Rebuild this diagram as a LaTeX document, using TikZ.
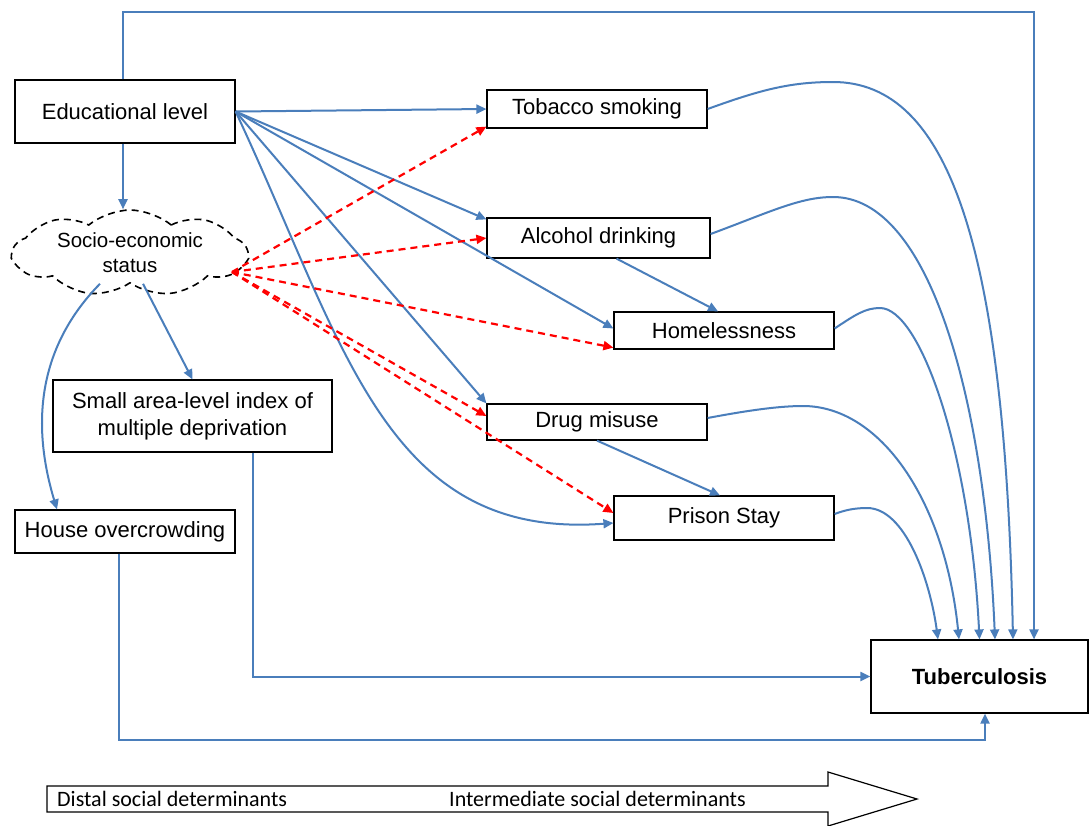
\documentclass[tikz,border=0pt]{standalone}
\usepackage{fontspec}
\setmainfont{Liberation Sans}
\newfontfamily\calibrifont{Carlito}
\usetikzlibrary{arrows.meta,shapes.symbols,calc}
\definecolor{lblue}{HTML}{4A7EBB}
\begin{document}
\begin{tikzpicture}[x=1pt,y=-1pt,
  box/.style={draw=black,line width=1.2pt,inner sep=0pt,minimum width=220pt,
    font=\fontsize{22}{27}\selectfont,align=center},
  arr/.style={draw=lblue,line width=2pt,-{Triangle[length=10pt,width=9pt]}},
  rarr/.style={draw=red,line width=2.2pt,dash pattern=on 7pt off 5pt,
    -{Triangle[length=10pt,width=9pt]}},
  lbl/.style={font=\calibrifont\fontsize{22}{24}\selectfont,anchor=west,inner sep=0pt}]
\fill[white] (0,0) rectangle (1091,825);
\useasboundingbox (0,0) rectangle (1091,825);

% nodes
\node[box,minimum height=63pt] (edu) at (125,111.5) {Educational level};
\node[cloud,draw=black,line width=1.6pt,dash pattern=on 7pt off 5pt,cloud puffs=9,
  cloud puff arc=80,cloud ignores aspect,minimum width=234pt,minimum height=86pt,
  inner sep=0pt,align=center,font=\fontsize{20.5}{25}\selectfont] (soc) at (130,253)
  {Socio-economic\\status};
\node[box,minimum height=38pt] (tob) at (597,109) {Tobacco smoking};
\node[box,minimum width=223pt,minimum height=40pt] (alc) at (598.5,238) {Alcohol drinking};
\node[box,minimum height=37pt] (hom) at (724,330.5) {Homelessness};
\node[box,minimum height=36pt] (drug) at (597,422) {Drug misuse};
\node[box,minimum height=44pt] (pri) at (724,518) {Prison Stay};
\node[box,minimum width=279pt,minimum height=72pt] (sma) at (192.5,416)
  {Small area-level index of\\multiple deprivation};
\node[box,minimum height=43pt] (hou) at (125,531.5) {House overcrowding};
\node[box,minimum width=217pt,minimum height=73pt,font=\fontsize{22}{24}\selectfont\bfseries]
  (tb) at (979.5,676.5) {Tuberculosis};

% top loop
\coordinate (tr) at (1034,12);
\draw[arr] ([xshift=-2pt]edu.north) |- (tr) -- (tr |- tb.north);

% educational level
\draw[arr] ([xshift=-2pt]edu.south) -- ([xshift=-2pt]edu.south |- soc.north);
\draw[arr] (edu.east) -- (tob.west);
\draw[arr] (edu.east) -- ([yshift=-2pt]alc.north west);
\draw[arr] (edu.east) -- ([yshift=2pt]hom.west);
\draw[arr] (edu.east) -- (drug.north west);
\draw[arr] (edu.east) .. controls (345,345) and (385,540) .. ([yshift=-5pt]pri.west);

% socio-economic status (red dashed)
\coordinate (sr) at (232,272);
\draw[rarr] (sr) -- ([yshift=2pt]tob.south west);
\draw[rarr] (sr) -- (alc.west);
\draw[rarr] (sr) -- ([yshift=2pt]hom.south west);
\draw[rarr] (sr) -- ([yshift=6pt]drug.west);
\draw[rarr] (sr) -- ([yshift=5pt]pri.west);

% socio-economic status (blue)
\draw[arr] ([xshift=13pt]soc.south) -- (sma.north);
\draw[arr] ([xshift=-30pt]soc.south) .. controls (40,345) and (30,420) .. ([xshift=-68pt]hou.north);

% intermediate links
\draw[arr] ([xshift=18pt]alc.south) -- ([xshift=-6pt]hom.north);
\draw[arr] (drug.south) -- ([xshift=-4pt]pri.north);

% to tuberculosis
\draw[arr] (tob.east) .. controls (760,90) and (790,82) .. (833,82)
  .. controls (950,82) and (1005,250) .. ([xshift=33.5pt]tb.north);
\draw[arr] ([yshift=4pt]alc.east) .. controls (770,212) and (800,197) .. (833,197)
  .. controls (930,197) and (985,400) .. ([xshift=15.5pt]tb.north);
\draw[arr] ([yshift=2pt]hom.east) .. controls (855,315) and (865,308) .. (880,308)
  .. controls (920,308) and (970,450) .. (tb.north);
\draw[arr] ([yshift=4pt]drug.east) .. controls (750,410) and (780,406) .. (803,406)
  .. controls (880,406) and (945,500) .. ([xshift=-20.5pt]tb.north);
\draw[arr] ([yshift=4pt]pri.east) .. controls (845,510) and (855,508) .. (867,508)
  .. controls (905,508) and (930,580) .. ([xshift=-41.5pt]tb.north);

% bottom connections
\draw[arr] ([xshift=60.5pt]sma.south) |- (tb.west);
\coordinate (hb) at (985,740);
\draw[arr] ([xshift=-6pt]hou.south) |- (hb) -- (hb |- tb.south);

% bottom arrow
\draw[line width=1.2pt,fill=white] (47,786) -- (828,786) -- (828,772) -- (917,799)
  -- (828,826) -- (828,812) -- (47,812) -- cycle;
\node[lbl] (dist) at (57,799) {Distal social determinants};
\node[lbl] (inter) at (449,799) {Intermediate social determinants};
\end{tikzpicture}
\end{document}
